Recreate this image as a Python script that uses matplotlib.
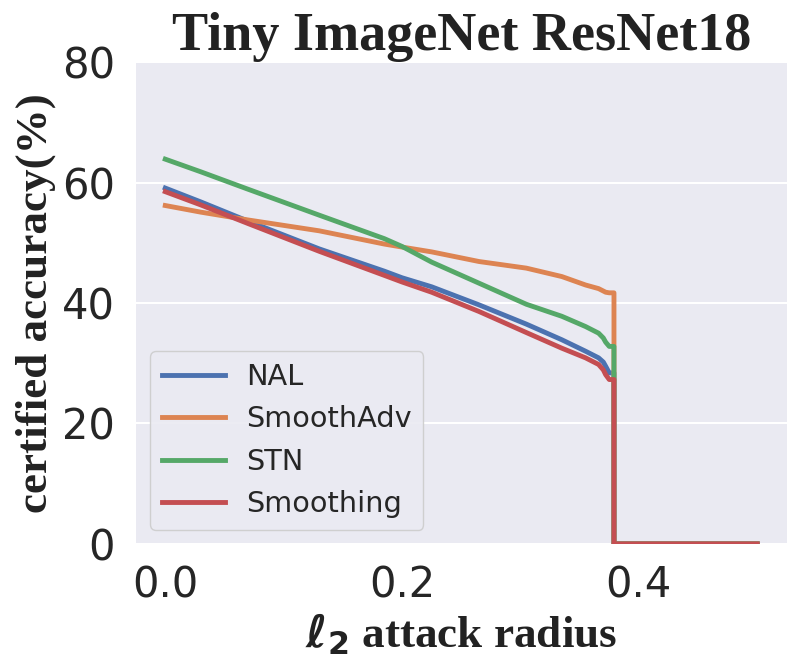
import matplotlib
matplotlib.use('Agg')
import matplotlib.pyplot as plt

# certified accuracy (%)
radius = [0.0, 0.03, 0.07, 0.13, 0.185, 0.2, 0.225, 0.265, 0.305, 0.335,
          0.355, 0.366, 0.370, 0.372, 0.375, 0.379, 0.379, 0.5]
nal = [59.1, 56.8, 53.6, 49.0, 45.3, 44.2, 42.7, 39.7, 36.5, 33.9,
       32.0, 30.9, 30.2, 29.5, 28.4, 28.4, 0.0, 0.0]
smoothadv = [56.2, 55.1, 53.8, 52.0, 49.8, 49.3, 48.5, 46.9, 45.8, 44.4,
             43.0, 42.4, 42.0, 41.8, 41.7, 41.7, 0.0, 0.0]
stn = [63.9, 61.8, 58.9, 54.6, 50.7, 49.4, 46.8, 43.3, 39.8, 37.8,
       36.1, 35.0, 34.2, 33.5, 32.8, 32.8, 0.0, 0.0]
smoothing = [58.5, 56.3, 53.2, 48.6, 44.6, 43.5, 41.8, 38.6, 35.1, 32.5,
             30.9, 29.8, 28.9, 28.1, 27.3, 27.3, 0.0, 0.0]

series = [('NAL', nal, '#4C72B0'),
          ('SmoothAdv', smoothadv, '#DD8452'),
          ('STN', stn, '#55A868'),
          ('Smoothing', smoothing, '#C44E52')]

serif = ['Liberation Serif', 'DejaVu Serif']

fig = plt.figure(figsize=(7.98, 6.69), dpi=100)
ax = fig.add_axes([0.170, 0.187, 0.986 - 0.170, 0.907 - 0.187])
ax.set_facecolor('#EAEAF2')
for s in ax.spines.values():
    s.set_visible(False)
ax.yaxis.grid(True, color='white', linewidth=1.5)
ax.xaxis.grid(False)
ax.set_axisbelow(True)

for name, vals, col in series:
    ax.plot(radius, vals, color=col, linewidth=3.5, label=name)

ax.set_ylim(0, 80)
ax.set_yticks([0, 20, 40, 60, 80])
ax.set_xticks([0.0, 0.2, 0.4])
ax.tick_params(axis='both', length=0, pad=15, labelsize=30, labelcolor='#262626')

ax.set_title('Tiny ImageNet ResNet18', family=serif, fontweight='bold',
             fontsize=39, color='#222222', pad=-1)
ax.set_xlabel(r'$\mathbf{\ell_2}$ attack radius', family=serif, fontweight='bold',
              fontsize=32.5, color='#222222', labelpad=4)
ax.set_ylabel('certified accuracy(%)', family=serif, fontweight='bold',
              fontsize=32.5, color='#222222', labelpad=4)

leg = ax.legend(loc='lower left', fontsize=20.7, labelspacing=0.5,
                handlelength=2.2, handletextpad=0.75, facecolor='#EAEAF2',
                edgecolor='#CCCCCC', framealpha=0.9)
for t in leg.get_texts():
    t.set_color('#262626')

fig.savefig('out.png', dpi=100)
